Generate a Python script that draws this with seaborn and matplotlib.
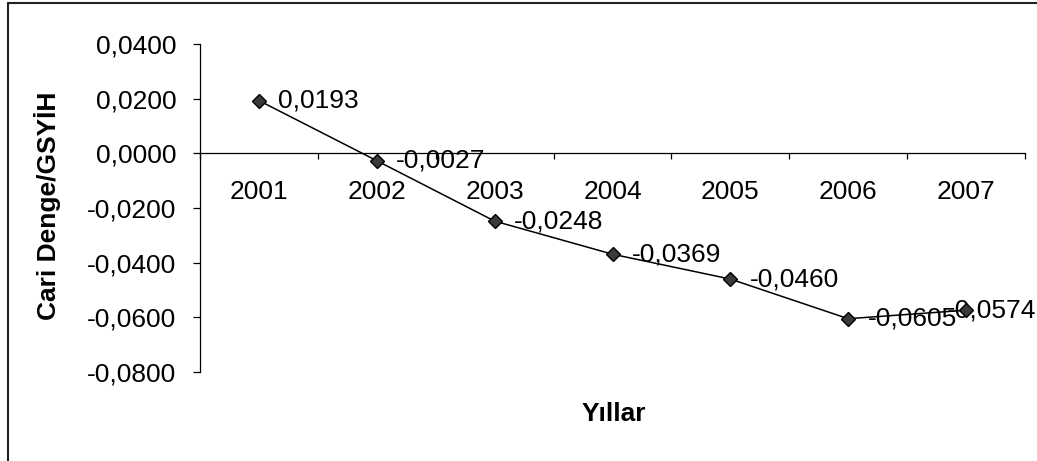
import numpy as np
import pandas as pd
import matplotlib
matplotlib.use("Agg")
import matplotlib.pyplot as plt
from matplotlib.lines import Line2D
from matplotlib.ticker import FuncFormatter, FixedLocator
import seaborn as sns

# ---- data ----
years = ["2001", "2002", "2003", "2004", "2005", "2006", "2007"]
ratio = [0.0193, -0.0027, -0.0248, -0.0369, -0.0460, -0.0605, -0.0574]
y_ticks = [-0.08, -0.06, -0.04, -0.02, 0.0, 0.02, 0.04]
y_label = "Cari Denge/GSYİH"
x_label = "Yıllar"

def tr_fmt(v):
    return f"{v:.4f}".replace(".", ",")

sns.set_theme(style="white")
plt.rcParams["font.family"] = ["Liberation Sans", "DejaVu Sans"]
FS = 19

W, H = 1037, 461
fig = plt.figure(figsize=(W / 100, H / 100), dpi=100)
fig.patch.set_facecolor("white")
ax = fig.add_axes([200 / W, 1 - 372 / H, 825 / W, 328 / H])
ax.set_facecolor("white")

df = pd.DataFrame({"year": years, "ratio": ratio})
sns.pointplot(data=df, x="year", y="ratio", color="black", markers="D",
              linestyles="-", errorbar=None, ax=ax)
for ln in ax.lines:
    ln.set_linewidth(1.1)
    ln.set_markersize(7.5)
    ln.set_markerfacecolor("#3a3a3a")
    ln.set_markeredgecolor("black")
    ln.set_markeredgewidth(1.0)
    ln.set_zorder(4)
for coll in ax.collections:
    coll.set_sizes([56])
    coll.set_facecolor("#3a3a3a")
    coll.set_edgecolor("black")
    coll.set_zorder(5)

n = len(years)
ax.set_xlim(-0.5, n - 0.5)
ax.set_ylim(min(y_ticks), max(y_ticks))

# spines
ax.spines["top"].set_visible(False)
ax.spines["right"].set_visible(False)
ax.spines["bottom"].set_position(("data", 0))
for s in ("left", "bottom"):
    ax.spines[s].set_color("black")
    ax.spines[s].set_linewidth(0.9)

# y axis
ax.set_yticks(y_ticks)
ax.yaxis.set_major_formatter(FuncFormatter(lambda v, p: tr_fmt(v)))
ax.tick_params(axis="y", which="major", left=True, direction="out", length=5,
               width=0.9, color="black", pad=12, labelsize=FS, labelcolor="black")

# x axis: ticks at category boundaries, labels at centres
ax.xaxis.set_major_locator(FixedLocator(np.arange(n + 1) - 0.5))
ax.xaxis.set_major_formatter(FuncFormatter(lambda v, p: ""))
ax.xaxis.set_minor_locator(FixedLocator(np.arange(n)))
ax.xaxis.set_minor_formatter(FuncFormatter(lambda v, p: years[int(round(v))]))
ax.tick_params(axis="x", which="major", bottom=True, direction="out", length=4.5,
               width=0.9, color="black")
ax.tick_params(axis="x", which="minor", bottom=True, length=0, pad=19,
               labelsize=FS, labelcolor="black")
ax.set_xlabel("")
ax.set_ylabel("")
ax.grid(False)

# data labels (last one nudged left so it stays inside the chart area)
for i, v in enumerate(ratio):
    dx = 14 if i < n - 1 else -14
    ax.annotate(tr_fmt(v), (i, v), xytext=(dx, 0), textcoords="offset points",
                ha="left", va="center", fontsize=FS, color="black", zorder=2,
                annotation_clip=False)

# axis titles
fig.text(48 / W, 1 - 206 / H, y_label, rotation=90, ha="center", va="center",
         fontsize=FS, fontweight="bold", color="black")
fig.text(614 / W, 1 - 414 / H, x_label, ha="center", va="center",
         fontsize=FS, fontweight="bold", color="black")

# chart frame (left and top edges visible)
fig.add_artist(Line2D([8 / W, 8 / W], [0, 1 - 3 / H], transform=fig.transFigure,
                      color="#222222", lw=1.5))
fig.add_artist(Line2D([8 / W, 1], [1 - 3 / H, 1 - 3 / H], transform=fig.transFigure,
                      color="#222222", lw=1.5))

fig.savefig("out.png", dpi=100, facecolor="white")
